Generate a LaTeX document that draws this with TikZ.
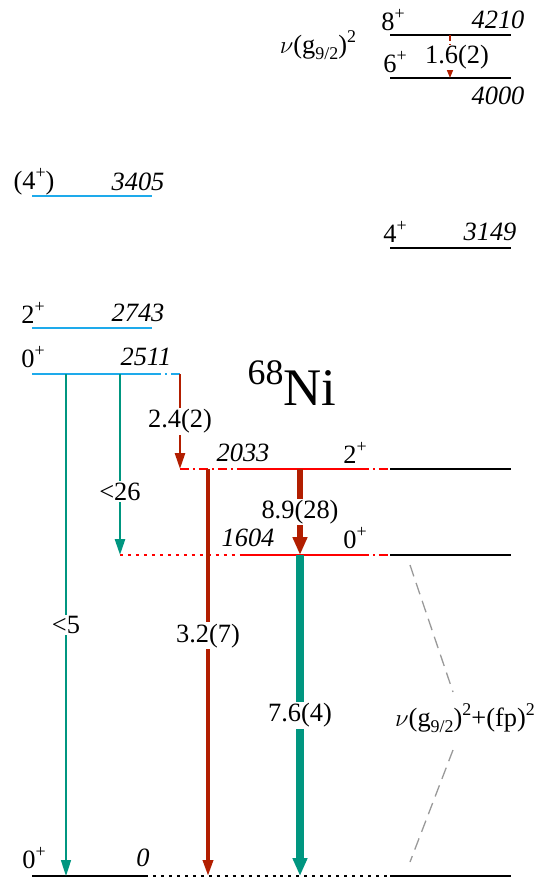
\documentclass[tikz,border=0pt]{standalone}
\usepackage{fontspec}
\setmainfont{Liberation Serif}
\usetikzlibrary{arrows.meta,positioning,calc}
\definecolor{levblue}{RGB}{30,170,235}
\definecolor{levred}{RGB}{255,0,0}
\definecolor{gred}{RGB}{178,30,0}
\definecolor{gteal}{RGB}{0,150,128}
\newcommand{\lbl}{\fontsize{26.5}{31}\selectfont}
\newcommand{\sps}[1]{\raisebox{0.42em}{\fontsize{18}{21}\selectfont #1}}
\newcommand{\sbs}[1]{\raisebox{-0.22em}{\fontsize{18}{21}\selectfont #1}}
\tikzset{
  lev/.style    ={line width=2pt},
  blev/.style   ={lev,black},
  clev/.style   ={lev,levblue},
  rlev/.style   ={lev,levred},
  dashdot/.style={dash pattern=on 9pt off 4pt on 2pt off 4pt},
  dotty/.style  ={dash pattern=on 3pt off 5pt},
  spin/.style   ={font=\lbl,inner sep=0pt},
  ener/.style   ={font=\lbl\itshape,inner sep=0pt},
  glab/.style   ={font=\lbl,text=black,fill=white,inner sep=1.5pt},
  gthin/.style  ={-{Triangle[length=16pt,width=10pt]}},
  gthick/.style ={-{Triangle[length=18pt,width=14pt]}},
  conf/.style   ={gray!80,line width=1.3pt,dash pattern=on 12pt off 7pt},
}

\begin{document}
\begin{tikzpicture}[x=1bp,y=-1bp]
  \useasboundingbox (0,0) rectangle (540,878);
  % left column levels
  \foreach \n/\y in {l3405/196,l2743/328,l2511/374}{
     \coordinate (\n a) at (32,\y);
     \coordinate (\n b) at (152,\y);
     \draw[clev] (\n a) -- (\n b);
  }
  \coordinate (l2511c) at (180,374);
  \draw[clev,dashdot] (l2511b) -- (l2511c);
  % right column levels
  \foreach \n/\y in {r4210/35,r4000/78,r3149/248,r2033/469,r1604/555,r0/876}{
     \coordinate (\n a) at (390,\y);
     \coordinate (\n b) at (511,\y);
     \draw[blev] (\n a) -- (\n b);
  }
  % 2033 and 1604
  \coordinate (m2033a) at (180,469);
  \coordinate (m2033b) at (240,469);
  \coordinate (m2033c) at (360,469);
  \draw[rlev,dashdot] (m2033a) -- (m2033b);
  \draw[rlev] (m2033b) -- (m2033c);
  \draw[rlev,dashdot] (m2033c) -- (r2033a);
  \coordinate (m1604a) at (120,555);
  \coordinate (m1604b) at (240,555);
  \coordinate (m1604c) at (360,555);
  \draw[rlev,dotty] (m1604a) -- (m1604b);
  \draw[rlev] (m1604b) -- (m1604c);
  \draw[rlev,dashdot] (m1604c) -- (r1604a);
  % ground state
  \coordinate (g0a) at (32,876);
  \coordinate (g0b) at (145,876);
  \draw[blev] (g0a) -- (g0b);
  \draw[blev,dotty] (g0b) -- (r0a);

  % labels
  \node[font=\fontsize{53}{60}\selectfont] (nuc) at (292,383) {\raisebox{0.4em}{\fontsize{36}{40}\selectfont 68}Ni};
  \node[font=\lbl] (cfg1) at (318,45) {$\nu$(g\sbs{9/2})\sps{2}};
  \node[font=\lbl] (cfg2) at (465,718) {$\nu$(g\sbs{9/2})\sps{2}+(fp)\sps{2}};
  \node[spin] (s4210) at (393,20) {8\sps{+}};
  \node[ener] (e4210) at (498,20) {4210};
  \node[spin] (s4000) at (395,62) {6\sps{+}};
  \node[ener] (e4000) at (498,96) {4000};
  \node[spin] (s3149) at (395,232) {4\sps{+}};
  \node[ener] (e3149) at (490,232) {3149};
  \node[spin] (s3405) at (34,182) {(4\sps{+})};
  \node[ener] (e3405) at (138,182) {3405};
  \node[spin] (s2743) at (33,313) {2\sps{+}};
  \node[ener] (e2743) at (138,313) {2743};
  \node[spin] (s2511) at (33,357) {0\sps{+}};
  \node[ener] (e2511) at (146,357) {2511};
  \node[ener] (e2033) at (243,453) {2033};
  \node[spin] (s2033) at (355,453) {2\sps{+}};
  \node[ener] (e1604) at (248,538) {1604};
  \node[spin] (s1604) at (355,538) {0\sps{+}};
  \node[spin] (s0) at (34,858) {0\sps{+}};
  \node[ener] (e0) at (143,858) {0};

  % transitions
  \coordinate (t1a) at (450,35);   \coordinate (t1b) at (450,78);
  \coordinate (t2a) at (66,374);   \coordinate (t2b) at (66,876);
  \coordinate (t3a) at (120,374);  \coordinate (t3b) at (120,555);
  \coordinate (t4a) at (180,374);  \coordinate (t4b) at (180,469);
  \coordinate (t5a) at (208,469);  \coordinate (t5b) at (208,876);
  \coordinate (t6a) at (300,469);  \coordinate (t6b) at (300,555);
  \coordinate (t7b) at (300,876);
  \draw[-{Triangle[length=8pt,width=6pt]},gred,line width=1.5pt,dash pattern=on 6pt off 3pt] (t1a) -- node[glab,pos=0.52,xshift=7pt,inner sep=0pt] (i1) {1.6(2)} (t1b);
  \draw[gthin,gteal,line width=1.6pt] (t2a) -- node[glab] (i2) {<5} (t2b);
  \draw[gthin,gteal,line width=2.6pt] (t3a) -- node[glab,pos=0.65] (i3) {<26} (t3b);
  \draw[gthin,gred,line width=2.6pt] (t4a) -- node[glab] (i4) {2.4(2)} (t4b);
  \draw[gthin,gred,line width=3.5pt] (t5a) -- node[glab,pos=0.41] (i5) {3.2(7)} (t5b);
  \draw[gthick,gred,line width=7pt] (t6a) -- node[glab] (i6) {8.9(28)} (t6b);
  \draw[gthick,gteal,line width=7.5pt] (t6b) -- node[glab] (i7) {7.6(4)} (t7b);

  % configuration mixing
  \coordinate (c1) at (410,565);  \coordinate (c2) at (453,692);
  \coordinate (c3) at (453,750);  \coordinate (c4) at (410,862);
  \draw[conf] (c1) -- (c2);
  \draw[conf] (c3) -- (c4);
\end{tikzpicture}
\end{document}
